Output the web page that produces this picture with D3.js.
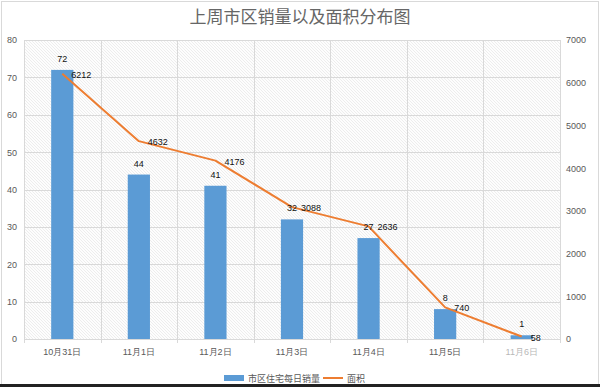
<!DOCTYPE html>
<html><head><meta charset="utf-8">
<script src="https://cdn.jsdelivr.net/npm/d3@7"></script>
<style>
html,body{margin:0;padding:0;background:#fff;}
svg{display:block;font-family:"Noto Sans CJK SC","Noto Sans",sans-serif;}
</style></head>
<body>
<svg id="c" width="600" height="387"></svg>
<script>
const categories = ["10月31日","11月1日","11月2日","11月3日","11月4日","11月5日","11月6日"];
const salesValues = [72,44,41,32,27,8,1];
const areaValues = [6212,4632,4176,3088,2636,740,58];
const leftTicks = [0,10,20,30,40,50,60,70,80];
const rightTicks = [0,1000,2000,3000,4000,5000,6000,7000];
const seriesNames = ["市区住宅每日销量","面积"];
const titleText = "上周市区销量以及面积分布图";

const svg = d3.select("#c");
const W = 600, H = 387;
const m = {l:24, r:40, t:40, b:48};
const pw = W - m.l - m.r, ph = H - m.t - m.b;

// outer border
svg.append("rect").attr("x",1.5).attr("y",1.5).attr("width",W-3).attr("height",H-4)
  .attr("fill","#fff").attr("stroke","#d9d9d9");
svg.append("line").attr("x1",0).attr("x2",W).attr("y1",H-1.5).attr("y2",H-1.5)
  .attr("stroke","#222").attr("stroke-width",3);

const defs = svg.append("defs");
const pat = defs.append("pattern").attr("id","hatch").attr("patternUnits","userSpaceOnUse")
  .attr("width",3).attr("height",3);
pat.append("rect").attr("width",3).attr("height",3).attr("fill","#fdfdfd");
pat.append("path").attr("d","M-1,-1 L4,4 M-1,2 L1,4 M2,-1 L4,1").attr("stroke","#e2e2e2").attr("stroke-width",0.6);

const x = d3.scaleBand().domain(categories).range([m.l, m.l+pw]).paddingInner(0.71).paddingOuter(0.355);
const xb = d3.scaleBand().domain(categories).range([m.l, m.l+pw]);
const yL = d3.scaleLinear().domain([0,80]).range([m.t+ph, m.t]);
const yR = d3.scaleLinear().domain([0,7000]).range([m.t+ph, m.t]);

svg.append("rect").attr("x",m.l).attr("y",m.t).attr("width",pw).attr("height",ph).attr("fill","url(#hatch)");

// horizontal gridlines
svg.append("g").selectAll("line").data(leftTicks).join("line")
  .attr("x1",m.l).attr("x2",m.l+pw).attr("y1",d=>Math.round(yL(d))+0.5).attr("y2",d=>Math.round(yL(d))+0.5)
  .attr("stroke","#d9d9d9").attr("stroke-width",1);
// vertical gridlines at category boundaries
const bounds = categories.map(c=>xb(c)).concat([m.l+pw]);
svg.append("g").selectAll("line").data(bounds).join("line")
  .attr("x1",d=>Math.round(d)+0.5).attr("x2",d=>Math.round(d)+0.5).attr("y1",m.t).attr("y2",m.t+ph+4)
  .attr("stroke","#d9d9d9").attr("stroke-width",1);

const axFont = "Liberation Sans, Arial, sans-serif";
const axL = d3.axisLeft(yL).tickValues(leftTicks).tickSize(0).tickPadding(7).tickFormat(d3.format("d"));
const gL = svg.append("g").attr("transform",`translate(${m.l},0)`).call(axL);
gL.select(".domain").remove();
gL.selectAll("text").attr("fill","#595959").style("font-size","9px").style("font-family",axFont);

const axR = d3.axisRight(yR).tickValues(rightTicks).tickSize(0).tickPadding(6).tickFormat(d3.format("d"));
const gR = svg.append("g").attr("transform",`translate(${m.l+pw},0)`).call(axR);
gR.select(".domain").remove();
gR.selectAll("text").attr("fill","#595959").style("font-size","9px").style("font-family",axFont);

const axB = d3.axisBottom(xb).tickSize(0).tickPadding(10);
const gB = svg.append("g").attr("transform",`translate(0,${m.t+ph})`).call(axB);
gB.select(".domain").remove();
gB.selectAll("text").attr("fill",(d,i)=> i===categories.length-1 ? "#b8b8b8" : "#595959").style("font-size","9px");

// bars
svg.append("g").selectAll("rect").data(salesValues).join("rect")
  .attr("x",(d,i)=>x(categories[i])).attr("width",x.bandwidth())
  .attr("y",d=>yL(d)).attr("height",d=>yL(0)-yL(d)).attr("fill","#5B9BD5");

// line
const line = d3.line().x((d,i)=>xb(categories[i])+xb.bandwidth()/2).y(d=>yR(d));
svg.append("path").datum(areaValues).attr("d",line).attr("fill","none")
  .attr("stroke","#ED7D31").attr("stroke-width",2).attr("stroke-linejoin","round");

// bar labels
svg.append("g").selectAll("text").data(salesValues).join("text")
  .attr("x",(d,i)=>xb(categories[i])+xb.bandwidth()/2).attr("y",d=>yL(d)-8)
  .attr("text-anchor","middle").style("font-size","9px").style("font-family",axFont).attr("fill","#111")
  .text(d=>d);
// line labels
svg.append("g").selectAll("text").data(areaValues).join("text")
  .attr("x",(d,i)=>xb(categories[i])+xb.bandwidth()/2+9).attr("y",d=>yR(d)+4)
  .attr("text-anchor","start").style("font-size","9px").style("font-family",axFont).attr("fill","#111")
  .text(d=>d);

// title
svg.append("text").attr("x",300).attr("y",23).attr("text-anchor","middle")
  .style("font-size","17px").style("font-weight","normal").attr("fill","#666").text(titleText);

// legend
const lg = svg.append("g");
lg.append("rect").attr("x",224).attr("y",375).attr("width",20).attr("height",6).attr("fill","#5B9BD5");
lg.append("text").attr("x",248).attr("y",382).style("font-size","9px").attr("fill","#595959").text(seriesNames[0]);
lg.append("line").attr("x1",323).attr("x2",343).attr("y1",378).attr("y2",378).attr("stroke","#ED7D31").attr("stroke-width",2);
lg.append("text").attr("x",347).attr("y",382).style("font-size","9px").attr("fill","#595959").text(seriesNames[1]);
</script>
</body></html>
